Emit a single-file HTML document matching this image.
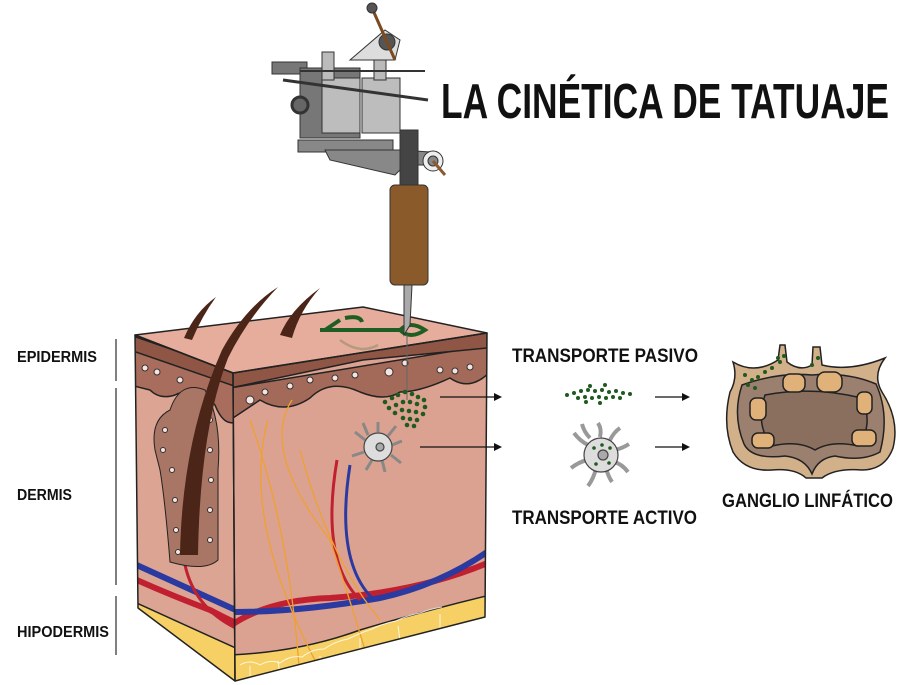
<!DOCTYPE html>
<html><head><meta charset="utf-8"><style>
html,body{margin:0;padding:0;background:#fff;}
svg{display:block;}
.t{font-family:"Liberation Sans Narrow","Liberation Sans",sans-serif;font-weight:bold;fill:#111;}
</style></head><body>
<svg width="900" height="685" viewBox="0 0 900 685" xmlns="http://www.w3.org/2000/svg">
<defs>
<clipPath id="lf"><polygon points="135,335 233,373 235,681 138,608"/></clipPath>
<clipPath id="rf"><polygon points="233,373 487,333 485,617 235,681"/></clipPath>
</defs>

<text class="t" x="441" y="118" font-size="49" textLength="448" lengthAdjust="spacingAndGlyphs">LA CINÉTICA DE TATUAJE</text>

<text class="t" x="17" y="362" font-size="16" textLength="80" lengthAdjust="spacingAndGlyphs">EPIDERMIS</text>
<text class="t" x="17" y="500" font-size="16" textLength="55" lengthAdjust="spacingAndGlyphs">DERMIS</text>
<text class="t" x="17" y="637" font-size="16" textLength="92" lengthAdjust="spacingAndGlyphs">HIPODERMIS</text>
<g stroke="#555" stroke-width="1.5">
<line x1="116" y1="339" x2="116" y2="381"/>
<line x1="116" y1="388" x2="116" y2="585"/>
<line x1="116" y1="596" x2="116" y2="655"/>
</g>

<g stroke="#222" stroke-width="1.5" stroke-linejoin="round">
<g clip-path="url(#lf)">
<rect x="130" y="330" width="110" height="360" fill="#dba493"/>
<path d="M130,345 L240,385 L240,420 Q225,430 215,405 Q195,385 175,395 Q160,400 150,390 L130,385Z" fill="#a86d5c"/>
<path d="M130,335 L240,373 L240,388 L130,350Z" fill="#8f5646"/>
<path d="M130,600 L240,650 L240,690 L130,690Z" fill="#f6d064"/>
<path d="M130,577 Q170,595 210,610 Q225,618 240,625" stroke="#c02030" stroke-width="6" fill="none"/>
<path d="M130,562 L240,612" stroke="#2a3aa0" stroke-width="6" fill="none"/>
<path d="M185,565 Q195,610 240,630" stroke="#c02030" stroke-width="3" fill="none"/>
</g>
<g clip-path="url(#rf)">
<rect x="230" y="325" width="260" height="360" fill="#dca291"/>
<path d="M230,388 L490,345 L490,372 Q470,392 450,378 Q420,392 400,392 Q385,402 360,392 Q330,378 310,398 Q285,415 260,400 Q245,410 230,420Z" fill="#a46a59"/>
<path d="M230,373 L363,343 L487,333 L487,348 L363,360 L230,388Z" fill="#8f5646"/>
<path d="M230,655 Q300,652 360,630 Q420,612 490,595 L490,690 L230,690Z" fill="#f6d064"/>
<path d="M233,624 Q270,600 330,598 Q420,592 490,562" stroke="#c02030" stroke-width="6" fill="none"/>
<path d="M233,612 Q300,612 380,598 Q440,585 490,550" stroke="#2a3aa0" stroke-width="6" fill="none"/>
<path d="M360,600 Q320,560 337,460" stroke="#c02030" stroke-width="3" fill="none"/>
<path d="M372,598 Q335,560 350,465" stroke="#2a3aa0" stroke-width="3" fill="none"/>
<g stroke="#f0a030" stroke-width="1.3" fill="none">
<path d="M250,420 Q290,530 300,680"/><path d="M268,420 Q240,520 320,670"/>
<path d="M300,450 Q330,560 380,620"/><path d="M292,400 Q260,450 330,540 Q350,600 365,650"/>
</g>
<g fill="none" stroke="#fff" stroke-width="1" opacity="0.8">
<path d="M240,665 q10,-6 20,0 q10,-6 20,-2 q10,-8 22,-6 q10,-8 22,-8 q12,-8 24,-10 q12,-6 24,-10 q12,-6 24,-8 q12,-6 24,-8 q10,-4 22,-6"/>
<path d="M250,678 l0,-12 M280,675 l-2,-14 M320,668 l0,-12 M360,652 l0,-14 M400,640 l-2,-14 M440,628 l0,-14"/>
</g>
</g>
<polygon points="135,335 363,307 487,333 233,373" fill="#e6ad9c"/>
<polygon points="135,335 233,373 235,681 138,608" fill="none"/>
<polygon points="233,373 487,333 485,617 235,681" fill="none"/>
</g>
<g fill="#f6e4e0" stroke="#333" stroke-width="1">
<circle cx="145" cy="368" r="3"/><circle cx="157" cy="372" r="3"/><circle cx="180" cy="380" r="3"/><circle cx="250" cy="400" r="4"/><circle cx="265" cy="392" r="3"/>
<circle cx="290" cy="386" r="3"/><circle cx="310" cy="380" r="3"/><circle cx="335" cy="378" r="3"/><circle cx="355" cy="375" r="3"/><circle cx="389" cy="372" r="4"/>
<circle cx="405" cy="363" r="3"/><circle cx="440" cy="370" r="3"/><circle cx="455" cy="371" r="3"/><circle cx="470" cy="367" r="3"/>
</g>
<!-- follicle -->
<path d="M155,450 Q150,420 170,410 Q180,380 205,390 Q222,420 218,470 L218,560 Q205,572 170,562 Q165,500 160,470Z" fill="#a97565" stroke="#222"/>
<g fill="#f6e4e0" stroke="#333" stroke-width="1">
<circle cx="165" cy="430" r="2.5"/><circle cx="163" cy="450" r="2.5"/><circle cx="172" cy="470" r="2.5"/><circle cx="175" cy="500" r="2.5"/><circle cx="176" cy="530" r="2.5"/><circle cx="178" cy="552" r="2.5"/>
<circle cx="210" cy="420" r="2.5"/><circle cx="210" cy="450" r="2.5"/><circle cx="211" cy="480" r="2.5"/><circle cx="210" cy="510" r="2.5"/><circle cx="210" cy="540" r="2.5"/>
</g>
<!-- hairs -->
<path d="M180,555 Q182,440 222,350 Q245,308 278,287 Q248,318 228,358 Q200,430 198,555Z" fill="#4a2518"/>
<path d="M184,338 Q195,312 216,297 Q202,316 192,340Z" fill="#4a2518"/>
<path d="M280,335 Q290,310 320,288 Q300,310 292,338Z" fill="#4a2518"/>

<!-- green tattoo symbol -->
<path d="M325,330 L340,320 M320,330 L400,330 Q410,320 425,330 Q410,340 400,330 M345,318 Q360,315 362,322" stroke="#1f5e22" stroke-width="4" fill="none"/>
<path d="M340,340 Q360,355 378,345" stroke="#b59b7c" stroke-width="2.5" fill="none"/>

<!-- Tattoo machine -->
<g stroke="#333" stroke-width="1">
<rect x="272" y="62" width="35" height="12" fill="#777"/>
<rect x="300" y="68" width="60" height="70" fill="#777"/>
<rect x="322" y="78" width="38" height="55" fill="#bdbdbd"/>
<rect x="362" y="78" width="38" height="55" fill="#bdbdbd"/>
<rect x="322" y="52" width="12" height="28" fill="#bbb"/>
<rect x="374" y="52" width="12" height="28" fill="#bbb"/>
<polygon points="350,60 385,30 400,40 395,60" fill="#ddd"/>
<circle cx="387" cy="42" r="8" fill="#555"/>
<line x1="372" y1="8" x2="395" y2="60" stroke="#7a4a20" stroke-width="3"/>
<circle cx="372" cy="8" r="5" fill="#555"/>
<line x1="283" y1="80" x2="428" y2="100" stroke="#333" stroke-width="3"/>
<line x1="300" y1="71" x2="425" y2="71" stroke="#333" stroke-width="2"/>
<circle cx="300" cy="105" r="8" fill="#666" stroke-width="3"/>
<rect x="298" y="140" width="95" height="12" fill="#888"/>
<path d="M325,150 L400,150 L430,152 L430,165 L405,165 L395,175 L330,160Z" fill="#888"/>
<rect x="400" y="130" width="18" height="55" fill="#444"/>
<circle cx="433" cy="161" r="10" fill="#eee"/>
<circle cx="433" cy="161" r="5" fill="#888"/>
<line x1="433" y1="161" x2="445" y2="175" stroke="#8a5a30" stroke-width="3"/>
<rect x="390" y="185" width="38" height="100" rx="5" fill="#8b5a2b"/>
<polygon points="404,285 412,285 410,325 404,335" fill="#aaa"/>
</g>
<line x1="407" y1="335" x2="407" y2="400" stroke="#666" stroke-width="1"/>

<g fill="#1f5a1f">
<circle cx="385" cy="402" r="2.3"/><circle cx="392" cy="398" r="2.3"/><circle cx="398" cy="395" r="2.3"/><circle cx="405" cy="392" r="2.3"/><circle cx="412" cy="394" r="2.3"/><circle cx="418" cy="397" r="2.3"/><circle cx="424" cy="400" r="2.3"/>
<circle cx="389" cy="408" r="2.3"/><circle cx="396" cy="405" r="2.3"/><circle cx="403" cy="402" r="2.3"/><circle cx="410" cy="402" r="2.3"/><circle cx="417" cy="404" r="2.3"/><circle cx="425" cy="407" r="2.3"/>
<circle cx="395" cy="413" r="2.3"/><circle cx="402" cy="410" r="2.3"/><circle cx="409" cy="411" r="2.3"/><circle cx="416" cy="412" r="2.3"/><circle cx="423" cy="414" r="2.3"/>
<circle cx="403" cy="418" r="2.3"/><circle cx="410" cy="419" r="2.3"/><circle cx="417" cy="420" r="2.3"/><circle cx="407" cy="425" r="2.3"/><circle cx="414" cy="426" r="2.3"/>
</g>
<g stroke="#444" stroke-width="1.2" fill="#ddd">
<path d="M365,440 l-10,-8 M368,435 l-5,-12 M378,432 l0,-10 M388,436 l8,-10 M392,445 l10,-4 M391,455 l10,8 M382,460 l3,12 M372,460 l-6,10 M364,452 l-12,4" stroke-width="3" stroke="#888"/>
<circle cx="378" cy="447" r="14"/>
<circle cx="380" cy="447" r="4" fill="#aaa"/>
</g>

<g stroke="#111" stroke-width="1.3">
<line x1="440" y1="397" x2="496" y2="397"/><line x1="420" y1="447" x2="496" y2="447"/>
<line x1="655" y1="397" x2="684" y2="397"/><line x1="655" y1="447" x2="684" y2="447"/>
</g>
<g fill="#111">
<polygon points="502,397 494,393 494,401"/><polygon points="502,447 494,443 494,451"/>
<polygon points="690,397 682,393 682,401"/><polygon points="690,447 682,443 682,451"/>
</g>

<text class="t" x="512" y="362" font-size="19" textLength="186" lengthAdjust="spacingAndGlyphs">TRANSPORTE PASIVO</text>
<text class="t" x="512" y="524" font-size="19" textLength="185" lengthAdjust="spacingAndGlyphs">TRANSPORTE ACTIVO</text>
<text class="t" x="722" y="507" font-size="19" textLength="171" lengthAdjust="spacingAndGlyphs">GANGLIO LINFÁTICO</text>

<g fill="#1f5a1f">
<circle cx="567" cy="395" r="2"/><circle cx="574" cy="393" r="2"/><circle cx="581" cy="391" r="2"/><circle cx="588" cy="390" r="2"/><circle cx="595" cy="391" r="2"/><circle cx="602" cy="390" r="2"/><circle cx="609" cy="392" r="2"/><circle cx="616" cy="391" r="2"/><circle cx="623" cy="393" r="2"/><circle cx="630" cy="394" r="2"/>
<circle cx="578" cy="398" r="2"/><circle cx="585" cy="397" r="2"/><circle cx="592" cy="398" r="2"/><circle cx="599" cy="397" r="2"/><circle cx="606" cy="398" r="2"/><circle cx="613" cy="397" r="2"/><circle cx="620" cy="398" r="2"/>
<circle cx="590" cy="386" r="2"/><circle cx="605" cy="385" r="2"/><circle cx="586" cy="402" r="2"/><circle cx="600" cy="403" r="2"/>
</g>
<g stroke="#444" stroke-width="1.2" fill="#ddd">
<path d="M588,445 q-8,-4 -14,-12 M590,438 q-6,-6 -8,-14 M600,437 q2,-8 -2,-14 M610,440 q4,-8 10,-12 M615,450 q8,-2 14,-6 M614,462 q8,2 14,10 M606,468 q2,8 6,14 M596,468 q-2,10 -8,18 M587,460 q-8,2 -16,8" stroke-width="4" stroke="#999" fill="none"/>
<circle cx="601" cy="455" r="17"/>
<circle cx="603" cy="455" r="5" fill="#aaa"/>
<g fill="#1f5a1f" stroke="none"><circle cx="594" cy="448" r="1.8"/><circle cx="610" cy="448" r="1.8"/><circle cx="596" cy="464" r="1.8"/><circle cx="609" cy="463" r="1.8"/><circle cx="602" cy="445" r="1.8"/></g>
</g>

<!-- lymph node -->
<g stroke="#222" stroke-width="1.5">
<path d="M733,362 Q755,375 778,360 L780,345 L785,345 L787,362 Q800,372 812,365 L813,347 L820,347 L822,365 Q850,372 885,358 Q872,375 882,392 Q900,420 893,448 Q885,470 862,470 Q835,468 822,478 L806,478 Q795,468 772,470 Q745,472 733,452 Q722,425 730,392 Q738,378 733,362Z" fill="#d1b08a"/>
<path d="M742,385 Q778,372 812,375 Q848,372 876,384 Q890,415 880,452 Q862,462 835,456 Q818,458 812,474 Q805,458 785,456 Q752,460 744,444 Q732,415 742,385Z" fill="#9b8070"/>
<path d="M765,395 Q812,386 862,398 Q874,425 858,446 Q832,440 815,450 Q798,440 772,446 Q755,425 765,395Z" fill="#8a6f5e"/>
<g fill="#e0b27a">
<rect x="783" y="374" width="22" height="18" rx="7"/><rect x="817" y="372" width="25" height="20" rx="8"/>
<rect x="750" y="398" width="16" height="22" rx="6"/><rect x="857" y="392" width="15" height="22" rx="6"/>
<rect x="752" y="433" width="22" height="15" rx="6"/><rect x="852" y="430" width="24" height="16" rx="6"/>
</g>
</g>
<g fill="#1f5a1f">
<circle cx="745" cy="375" r="2"/><circle cx="752" cy="380" r="2"/><circle cx="748" cy="385" r="2"/><circle cx="758" cy="377" r="2"/><circle cx="765" cy="372" r="2"/><circle cx="772" cy="368" r="2"/><circle cx="780" cy="362" r="2"/><circle cx="784" cy="356" r="2"/><circle cx="778" cy="358" r="2"/><circle cx="755" cy="388" r="2"/><circle cx="812" cy="365" r="2"/><circle cx="818" cy="358" r="2"/>
</g>
</svg>
</body></html>
